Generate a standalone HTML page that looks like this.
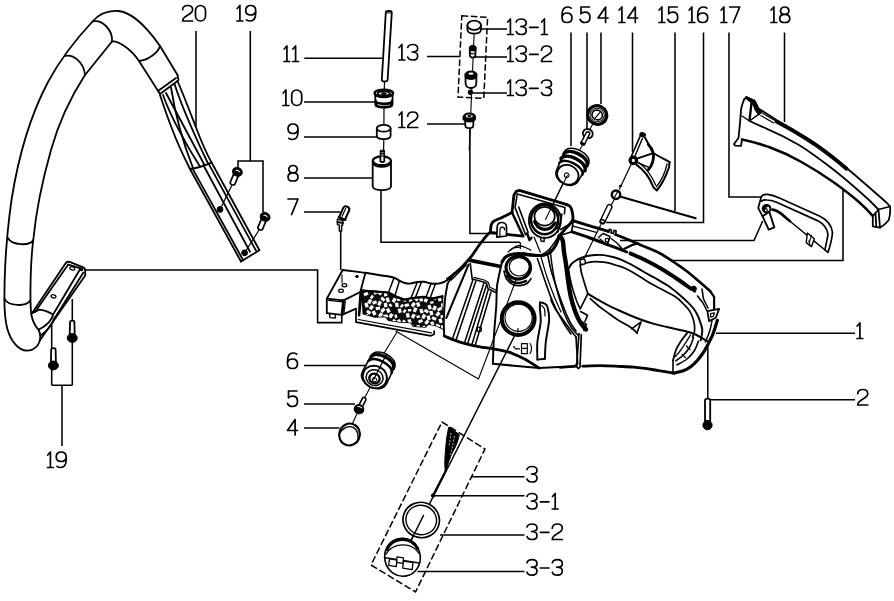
<!DOCTYPE html>
<html><head><meta charset="utf-8"><title>Parts diagram</title>
<style>
html,body{margin:0;padding:0;background:#fff;}
body{width:894px;height:601px;overflow:hidden;font-family:"Liberation Sans",sans-serif;}
svg{display:block;}
.t{fill:none;stroke:#000;stroke-width:1.7;stroke-linecap:round;stroke-linejoin:round;}
.l{fill:none;stroke:#000;stroke-width:1.55;stroke-linecap:butt;stroke-linejoin:miter;}
.p{fill:none;stroke:#000;stroke-width:1.8;stroke-linecap:round;stroke-linejoin:round;}
.pw{fill:#fff;stroke:#000;stroke-width:1.8;stroke-linecap:round;stroke-linejoin:round;}
.k{fill:none;stroke:#000;stroke-width:2.4;stroke-linecap:round;stroke-linejoin:round;}
.kk{fill:none;stroke:#000;stroke-width:3.4;stroke-linecap:round;stroke-linejoin:round;}
.n{fill:none;stroke:#000;stroke-width:1.2;stroke-linecap:round;stroke-linejoin:round;}
.b{fill:#000;stroke:#000;stroke-width:1;stroke-linejoin:round;}
.d{fill:none;stroke:#000;stroke-width:1.5;stroke-dasharray:6.5 2.6;}
</style></head>
<body>
<svg width="894" height="601" viewBox="0 0 894 601">
<defs><filter id="soft" x="0" y="0" width="894" height="601" filterUnits="userSpaceOnUse"><feGaussianBlur stdDeviation="0.45"/></filter></defs>
<rect x="0" y="0" width="894" height="601" fill="#fff"/>
<g filter="url(#soft)">
<g class="t">
<path transform="translate(182.60,5.50) scale(1.000)" d="M0,4.2 C0,1.6 2,0 5,0 C8,0 10,1.6 10,4.2 C10,7 7.5,8.3 4.5,10 C1.8,11.5 0,13 0,15.5 L10,15.5"/>
<path transform="translate(195.50,5.50) scale(1.000)" d="M5,0 C2,0 0,2.3 0,5 L0,10.5 C0,13.2 2,15.5 5,15.5 C8,15.5 10,13.2 10,10.5 L10,5 C10,2.3 8,0 5,0 Z"/>
<path transform="translate(237.00,5.50) scale(1.000)" d="M0.2,3 L2.9,0 L2.9,15.5 M0,15.5 L5.8,15.5"/>
<path transform="translate(245.70,5.50) scale(1.000)" d="M0.8,14.3 C1.8,15.1 3,15.5 4.4,15.5 C8,15.5 10,12.5 10,7.5 L10,5.1 C10,2.1 8,0 5,0 C2,0 0,2 0,4.8 C0,7.7 2,9.5 5,9.5 C7.5,9.5 9.4,8 10,5.7"/>
<path transform="translate(284.00,46.00) scale(1.000)" d="M0.2,3 L2.9,0 L2.9,15.5 M0,15.5 L5.8,15.5"/>
<path transform="translate(292.70,46.00) scale(1.000)" d="M0.2,3 L2.9,0 L2.9,15.5 M0,15.5 L5.8,15.5"/>
<path transform="translate(283.00,90.00) scale(1.000)" d="M0.2,3 L2.9,0 L2.9,15.5 M0,15.5 L5.8,15.5"/>
<path transform="translate(291.70,90.00) scale(1.000)" d="M5,0 C2,0 0,2.3 0,5 L0,10.5 C0,13.2 2,15.5 5,15.5 C8,15.5 10,13.2 10,10.5 L10,5 C10,2.3 8,0 5,0 Z"/>
<path transform="translate(288.00,124.00) scale(1.000)" d="M0.8,14.3 C1.8,15.1 3,15.5 4.4,15.5 C8,15.5 10,12.5 10,7.5 L10,5.1 C10,2.1 8,0 5,0 C2,0 0,2 0,4.8 C0,7.7 2,9.5 5,9.5 C7.5,9.5 9.4,8 10,5.7"/>
<path transform="translate(288.00,165.50) scale(1.000)" d="M5,0 C2.5,0 0.8,1.5 0.8,3.8 C0.8,6 2.5,7.4 5,7.4 C7.5,7.4 9.2,6 9.2,3.8 C9.2,1.5 7.5,0 5,0 Z M5,7.4 C2,7.4 0,9 0,11.4 C0,13.9 2,15.5 5,15.5 C8,15.5 10,13.9 10,11.4 C10,9 8,7.4 5,7.4 Z"/>
<path transform="translate(288.00,199.00) scale(1.000)" d="M0,0 L10,0 L3.6,15.5"/>
<path transform="translate(399.00,44.50) scale(1.000)" d="M0.2,3 L2.9,0 L2.9,15.5 M0,15.5 L5.8,15.5"/>
<path transform="translate(407.70,44.50) scale(1.000)" d="M0,3 C0.6,1.1 2.5,0 5,0 C8,0 10,1.5 10,4 C10,6.2 8,7.5 4.5,7.5 C8,7.5 10,8.9 10,11.4 C10,13.9 8,15.5 5,15.5 C2.5,15.5 0.6,14.4 0,12.5"/>
<path transform="translate(399.00,112.00) scale(1.000)" d="M0.2,3 L2.9,0 L2.9,15.5 M0,15.5 L5.8,15.5"/>
<path transform="translate(407.70,112.00) scale(1.000)" d="M0,4.2 C0,1.6 2,0 5,0 C8,0 10,1.6 10,4.2 C10,7 7.5,8.3 4.5,10 C1.8,11.5 0,13 0,15.5 L10,15.5"/>
<path transform="translate(507.50,19.00) scale(1.000)" d="M0.2,3 L2.9,0 L2.9,15.5 M0,15.5 L5.8,15.5"/>
<path transform="translate(516.20,19.00) scale(1.000)" d="M0,3 C0.6,1.1 2.5,0 5,0 C8,0 10,1.5 10,4 C10,6.2 8,7.5 4.5,7.5 C8,7.5 10,8.9 10,11.4 C10,13.9 8,15.5 5,15.5 C2.5,15.5 0.6,14.4 0,12.5"/>
<path transform="translate(529.10,19.00) scale(1.000)" d="M0.5,8.3 L9,8.3"/>
<path transform="translate(541.50,19.00) scale(1.000)" d="M0.2,3 L2.9,0 L2.9,15.5 M0,15.5 L5.8,15.5"/>
<path transform="translate(507.50,46.00) scale(1.000)" d="M0.2,3 L2.9,0 L2.9,15.5 M0,15.5 L5.8,15.5"/>
<path transform="translate(516.20,46.00) scale(1.000)" d="M0,3 C0.6,1.1 2.5,0 5,0 C8,0 10,1.5 10,4 C10,6.2 8,7.5 4.5,7.5 C8,7.5 10,8.9 10,11.4 C10,13.9 8,15.5 5,15.5 C2.5,15.5 0.6,14.4 0,12.5"/>
<path transform="translate(529.10,46.00) scale(1.000)" d="M0.5,8.3 L9,8.3"/>
<path transform="translate(541.50,46.00) scale(1.000)" d="M0,4.2 C0,1.6 2,0 5,0 C8,0 10,1.6 10,4.2 C10,7 7.5,8.3 4.5,10 C1.8,11.5 0,13 0,15.5 L10,15.5"/>
<path transform="translate(507.50,80.00) scale(1.000)" d="M0.2,3 L2.9,0 L2.9,15.5 M0,15.5 L5.8,15.5"/>
<path transform="translate(516.20,80.00) scale(1.000)" d="M0,3 C0.6,1.1 2.5,0 5,0 C8,0 10,1.5 10,4 C10,6.2 8,7.5 4.5,7.5 C8,7.5 10,8.9 10,11.4 C10,13.9 8,15.5 5,15.5 C2.5,15.5 0.6,14.4 0,12.5"/>
<path transform="translate(529.10,80.00) scale(1.000)" d="M0.5,8.3 L9,8.3"/>
<path transform="translate(541.50,80.00) scale(1.000)" d="M0,3 C0.6,1.1 2.5,0 5,0 C8,0 10,1.5 10,4 C10,6.2 8,7.5 4.5,7.5 C8,7.5 10,8.9 10,11.4 C10,13.9 8,15.5 5,15.5 C2.5,15.5 0.6,14.4 0,12.5"/>
<path transform="translate(562.00,7.00) scale(1.000)" d="M9.2,1.2 C8.2,0.4 7,0 5.6,0 C2,0 0,3 0,8 L0,10.4 C0,13.4 2,15.5 5,15.5 C8,15.5 10,13.5 10,10.7 C10,7.8 8,6 5,6 C2.5,6 0.6,7.5 0,9.8"/>
<path transform="translate(580.00,7.00) scale(1.000)" d="M9.5,0 L1,0 L1,6.8 C2,5.7 3.4,5.2 5,5.2 C8,5.2 10,7.3 10,10.3 C10,13.4 8,15.5 5,15.5 C2.5,15.5 0.8,14.5 0,12.4"/>
<path transform="translate(598.00,7.00) scale(1.000)" d="M7.6,15.5 L7.6,0 L0,11 L10,11"/>
<path transform="translate(619.00,7.00) scale(1.000)" d="M0.2,3 L2.9,0 L2.9,15.5 M0,15.5 L5.8,15.5"/>
<path transform="translate(627.70,7.00) scale(1.000)" d="M7.6,15.5 L7.6,0 L0,11 L10,11"/>
<path transform="translate(659.00,7.00) scale(1.000)" d="M0.2,3 L2.9,0 L2.9,15.5 M0,15.5 L5.8,15.5"/>
<path transform="translate(667.70,7.00) scale(1.000)" d="M9.5,0 L1,0 L1,6.8 C2,5.7 3.4,5.2 5,5.2 C8,5.2 10,7.3 10,10.3 C10,13.4 8,15.5 5,15.5 C2.5,15.5 0.8,14.5 0,12.4"/>
<path transform="translate(689.00,7.00) scale(1.000)" d="M0.2,3 L2.9,0 L2.9,15.5 M0,15.5 L5.8,15.5"/>
<path transform="translate(697.70,7.00) scale(1.000)" d="M9.2,1.2 C8.2,0.4 7,0 5.6,0 C2,0 0,3 0,8 L0,10.4 C0,13.4 2,15.5 5,15.5 C8,15.5 10,13.5 10,10.7 C10,7.8 8,6 5,6 C2.5,6 0.6,7.5 0,9.8"/>
<path transform="translate(721.00,7.00) scale(1.000)" d="M0.2,3 L2.9,0 L2.9,15.5 M0,15.5 L5.8,15.5"/>
<path transform="translate(729.70,7.00) scale(1.000)" d="M0,0 L10,0 L3.6,15.5"/>
<path transform="translate(771.00,7.00) scale(1.000)" d="M0.2,3 L2.9,0 L2.9,15.5 M0,15.5 L5.8,15.5"/>
<path transform="translate(779.70,7.00) scale(1.000)" d="M5,0 C2.5,0 0.8,1.5 0.8,3.8 C0.8,6 2.5,7.4 5,7.4 C7.5,7.4 9.2,6 9.2,3.8 C9.2,1.5 7.5,0 5,0 Z M5,7.4 C2,7.4 0,9 0,11.4 C0,13.9 2,15.5 5,15.5 C8,15.5 10,13.9 10,11.4 C10,9 8,7.4 5,7.4 Z"/>
<path transform="translate(857.00,323.00) scale(1.000)" d="M0.2,3 L2.9,0 L2.9,15.5 M0,15.5 L5.8,15.5"/>
<path transform="translate(857.70,389.50) scale(1.000)" d="M0,4.2 C0,1.6 2,0 5,0 C8,0 10,1.6 10,4.2 C10,7 7.5,8.3 4.5,10 C1.8,11.5 0,13 0,15.5 L10,15.5"/>
<path transform="translate(527.00,466.50) scale(1.000)" d="M0,3 C0.6,1.1 2.5,0 5,0 C8,0 10,1.5 10,4 C10,6.2 8,7.5 4.5,7.5 C8,7.5 10,8.9 10,11.4 C10,13.9 8,15.5 5,15.5 C2.5,15.5 0.6,14.4 0,12.5"/>
<path transform="translate(527.00,493.50) scale(1.000)" d="M0,3 C0.6,1.1 2.5,0 5,0 C8,0 10,1.5 10,4 C10,6.2 8,7.5 4.5,7.5 C8,7.5 10,8.9 10,11.4 C10,13.9 8,15.5 5,15.5 C2.5,15.5 0.6,14.4 0,12.5"/>
<path transform="translate(539.90,493.50) scale(1.000)" d="M0.5,8.3 L9,8.3"/>
<path transform="translate(552.30,493.50) scale(1.000)" d="M0.2,3 L2.9,0 L2.9,15.5 M0,15.5 L5.8,15.5"/>
<path transform="translate(527.00,524.00) scale(1.000)" d="M0,3 C0.6,1.1 2.5,0 5,0 C8,0 10,1.5 10,4 C10,6.2 8,7.5 4.5,7.5 C8,7.5 10,8.9 10,11.4 C10,13.9 8,15.5 5,15.5 C2.5,15.5 0.6,14.4 0,12.5"/>
<path transform="translate(539.90,524.00) scale(1.000)" d="M0.5,8.3 L9,8.3"/>
<path transform="translate(552.30,524.00) scale(1.000)" d="M0,4.2 C0,1.6 2,0 5,0 C8,0 10,1.6 10,4.2 C10,7 7.5,8.3 4.5,10 C1.8,11.5 0,13 0,15.5 L10,15.5"/>
<path transform="translate(527.00,559.70) scale(1.000)" d="M0,3 C0.6,1.1 2.5,0 5,0 C8,0 10,1.5 10,4 C10,6.2 8,7.5 4.5,7.5 C8,7.5 10,8.9 10,11.4 C10,13.9 8,15.5 5,15.5 C2.5,15.5 0.6,14.4 0,12.5"/>
<path transform="translate(539.90,559.70) scale(1.000)" d="M0.5,8.3 L9,8.3"/>
<path transform="translate(552.30,559.70) scale(1.000)" d="M0,3 C0.6,1.1 2.5,0 5,0 C8,0 10,1.5 10,4 C10,6.2 8,7.5 4.5,7.5 C8,7.5 10,8.9 10,11.4 C10,13.9 8,15.5 5,15.5 C2.5,15.5 0.6,14.4 0,12.5"/>
<path transform="translate(287.50,353.00) scale(1.000)" d="M9.2,1.2 C8.2,0.4 7,0 5.6,0 C2,0 0,3 0,8 L0,10.4 C0,13.4 2,15.5 5,15.5 C8,15.5 10,13.5 10,10.7 C10,7.8 8,6 5,6 C2.5,6 0.6,7.5 0,9.8"/>
<path transform="translate(287.50,391.00) scale(1.000)" d="M9.5,0 L1,0 L1,6.8 C2,5.7 3.4,5.2 5,5.2 C8,5.2 10,7.3 10,10.3 C10,13.4 8,15.5 5,15.5 C2.5,15.5 0.8,14.5 0,12.4"/>
<path transform="translate(287.50,419.50) scale(1.000)" d="M7.6,15.5 L7.6,0 L0,11 L10,11"/>
<path transform="translate(47.50,452.00) scale(1.000)" d="M0.2,3 L2.9,0 L2.9,15.5 M0,15.5 L5.8,15.5"/>
<path transform="translate(56.20,452.00) scale(1.000)" d="M0.8,14.3 C1.8,15.1 3,15.5 4.4,15.5 C8,15.5 10,12.5 10,7.5 L10,5.1 C10,2.1 8,0 5,0 C2,0 0,2 0,4.8 C0,7.7 2,9.5 5,9.5 C7.5,9.5 9.4,8 10,5.7"/>
</g>
<g class="l">
<path d="M196,31 L196,127"/>
<path d="M250.3,31 L250.3,161 M238,167 L238,161 L263,161 L263,212"/>
<path d="M304.3,58.2 L382.5,58.2"/>
<path d="M304,102 L375,102"/>
<path d="M304,137 L377,137"/>
<path d="M304,178 L372.5,178"/>
<path d="M304,212 L340,212"/>
<path d="M427,56.5 L460,56.5"/>
<path d="M427,124 L465,124"/>
<path d="M480,29 L507,29"/>
<path d="M475,57 L507,57"/>
<path d="M472.5,93 L507,93"/>
<path d="M571,32.5 L571,146"/>
<path d="M587,32.5 L587,129"/>
<path d="M601,32.5 L601,104"/>
<path d="M632.5,32.5 L632.5,152"/>
<path d="M675,32.5 L675,211"/>
<path d="M703.5,32.5 L703.5,222.5 L606,222.5"/>
<path d="M729,32.5 L729,197 L761.5,197"/>
<path d="M784.5,32.5 L784.5,122"/>
<path d="M843,189 L843,260.5 L671,260.5"/>
<path d="M762.7,221 L754,240.5 L620,240.5"/>
<path d="M716,333.2 L855,333.2"/>
<path d="M709,399.7 L855,399.7"/>
<path d="M707.8,345 L707.8,399"/>
<path d="M471,476.7 L524.5,476.7"/>
<path d="M433,495.7 L524.5,495.7"/>
<path d="M440,535 L524.5,535"/>
<path d="M417.5,571.5 L524.5,571.5"/>
<path d="M304,365.5 L366,365.5"/>
<path d="M304,404 L355,404"/>
<path d="M304,428 L339.5,428"/>
<path d="M62,446 L62,385.2 M51.7,385.2 L72.4,385.2"/>
<path d="M72.3,299 L72.3,385.2 M51.7,325 L51.7,385.2"/>
<path d="M84.5,270 L317.6,270 L317.6,322.6 L341.8,322.6 L341.8,314.5"/>
<path d="M340.7,231 L340.7,270"/>
<path d="M381,190 L381,242.3 L520,242.3"/>
<path d="M469.9,127.5 L469.9,233.5 L495.5,233.5"/>
</g>
<g class="p">
<path d="M38.5,329.7 C41,334 41,341 37.5,345.5 C34.5,349 31,350.7 27,350.7 C19,350.7 11,342 7.3,328.8 C5,320 4.3,310 4.4,298 C4.4,265 7,232 11.5,200 C17,165 28,120 48,82 C62,56 78,37 92.5,21.5 C100,13 110,10.5 118,11 C132,12 146,26 160,46 L177.5,75"/>
<path d="M38.5,329.7 C35,326 32.5,321 31.2,314 C29.8,300 30.3,262 33.5,238 C36,212 42,182 51,150 C60,118 72,95 85,75 L112,41.5 C116,41 120,43 125,46.5 C130,50 135,55 139,61 L160,94"/>
<path d="M65,56 C73,54 84,62 85,75"/>
<path d="M92.5,21.5 C102,19 113,30 112,41.5"/>
<path d="M139,61 C148,60 158,53 160,46"/>
<path d="M7.5,237.5 C12,246 30,246 33.3,240"/>
<path d="M4.5,298.5 C8,306.5 26,307 30.2,300.5"/>
<path d="M160,94 L177.5,81 M158,91 L176,78"/>
<path d="M177.5,75 L178.5,80"/>
<path d="M177.5,81 C184,96 190,112 196,127.5 C200,138 205,151 211.7,162.7 L259.3,250"/>
<path d="M160,95 C164,107 168,119 172.5,130 C178,145 184,157 190,169 L241,261.5"/>
<path d="M241,261.5 L259.3,250.3"/>
<path d="M192.4,168.4 L243.2,260.2"/>
<path d="M203.3,165 L250,251.7"/>
<path d="M208.4,163.4 L256,250.6"/>
<path d="M190,169 C196,168.5 204,166 211.7,162.7"/>
<path d="M163,95 C170,115 186,145 200,166.5"/>
<path d="M174.5,84 C181,104 192,130 208,163.5"/>
<path d="M166,93 C176,112 190,138 204.5,165"/>
<path d="M171,87.5 C174,107 180,135 193,168"/>
</g>
<circle cx="220" cy="209.4" r="2.9" class="b"/><circle cx="244.6" cy="252.8" r="2.9" class="b"/>
<g class="n"><path d="M232.5,184 L220,209.5 M260,228.5 L244.6,252.8"/></g>
<g transform="translate(237.4,171.8) rotate(23)"><path class="pw" d="M-2.5,1.5 L-2.5,12.3 C-2.5,14.6 2.5,14.6 2.5,12.3 L2.5,1.5 Z" style="stroke-width:1.7"/><ellipse cx="0" cy="0" rx="5" ry="4.3" class="b"/><path d="M-2,-0.6 C-1,-1.8 1.2,-1.8 2.2,-0.4" stroke="#fff" stroke-width="1.1" fill="none"/></g>
<g transform="translate(265.1,216.8) rotate(23)"><path class="pw" d="M-2.5,1.5 L-2.5,12.3 C-2.5,14.6 2.5,14.6 2.5,12.3 L2.5,1.5 Z" style="stroke-width:1.7"/><ellipse cx="0" cy="0" rx="5" ry="4.3" class="b"/><path d="M-2,-0.6 C-1,-1.8 1.2,-1.8 2.2,-0.4" stroke="#fff" stroke-width="1.1" fill="none"/></g>
<g class="p">
<path d="M65.9,262.8 L32,313.2"/>
<path d="M68.2,264.6 L35,312"/>
<path d="M65.9,262.8 C67,261.8 68.5,261.6 69.6,261.9 L83.3,267.4 C84.5,268 85.2,269 85.2,270.1 L85.2,275.6 L39.8,340.6"/>
<path d="M80.6,268.3 L53.1,314.5"/>
<path d="M83.4,272.6 L55,317.8"/>
<path d="M68.2,264.6 L80.6,268.3"/>
<path d="M32,313.2 L39.4,309.6 C44,310 49,312 53.1,314.5"/>
<path d="M53.1,314.5 C52,320 46,326 38.5,329.7"/>
<path d="M54.6,317.5 C52.5,324 47,331 40.6,335.5"/>
<ellipse cx="72.3" cy="268.4" rx="2.5" ry="1.6" transform="rotate(15 72.3 268.4)" style="stroke-width:1.3"/>
<ellipse cx="53.5" cy="296.3" rx="2.5" ry="1.6" transform="rotate(15 53.5 296.3)" style="stroke-width:1.3"/>
<ellipse cx="81.3" cy="269.5" rx="1.2" ry="0.9"/>
</g>
<g transform="translate(72.2,321)"><path class="pw" d="M-2.2,1.2 C-2.2,-0.8 2.2,-0.8 2.2,1.2 L2.5,14 L-2.5,14 Z" style="stroke-width:1.8"/><ellipse cx="0" cy="17" rx="5" ry="4.4" class="b"/></g>
<g transform="translate(53.4,348.5)"><path class="pw" d="M-2.2,1.2 C-2.2,-0.8 2.2,-0.8 2.2,1.2 L2.5,14 L-2.5,14 Z" style="stroke-width:1.8"/><ellipse cx="0" cy="17" rx="5" ry="4.4" class="b"/></g>
<g class="pw">
<path d="M385.8,12.5 C385.8,10.4 391.8,10.4 391.8,12.5 L387.6,80 C387.4,82 381.9,82 381.8,80 Z"/>
<ellipse cx="388.8" cy="12" rx="2.2" ry="1.1" style="fill:none;stroke-width:1"/>
</g>
<g class="n"><path d="M384.5,82 L384.3,89 M384,107.5 L383.9,125 M383.8,140 L383.6,150"/></g>
<g class="pw">
<path d="M375.3,95 L375.3,104.5 C375.3,108.3 392.5,108.3 392.5,104.5 L392.5,95 Z"/>
<path class="k" style="stroke-width:2.7" d="M375.8,101.2 C376.2,104.7 391.8,104.7 392,101.2 M376,104.6 C376.4,108 391.6,108 391.8,104.6"/>
<ellipse cx="383.8" cy="93.3" rx="9.2" ry="3.7" style="stroke-width:2.4"/>
<ellipse cx="383.8" cy="93.5" rx="6.2" ry="2.2"/>
<ellipse cx="383.8" cy="93.8" rx="2.3" ry="1" class="b"/>
</g>
<g class="pw">
<path d="M376.8,128.5 L376.8,135.8 C376.8,140.2 390.6,140.2 390.6,135.8 L390.6,128.5 Z"/>
<ellipse cx="383.7" cy="128.3" rx="6.9" ry="3.4"/>
</g>
<g class="pw">
<path d="M380.4,150.3 L384.3,150.3 L384.3,160 L380.4,160 Z" style="stroke-width:1.1"/>
<path class="k" style="stroke-width:1.6" d="M380.4,151.6 L384.3,151.6 M380.4,153.8 L384.3,153.8"/>
<path d="M372.7,161 L372.7,186 C372.7,191.6 391,191.6 391,186 L391,161 Z"/>
<ellipse cx="381.9" cy="160.8" rx="9.1" ry="4.4" style="stroke-width:2.2"/>
<path d="M373.3,163.5 C375,168 388.5,168 390.5,163.5" style="fill:none"/>
<path d="M380.4,156.5 L380.4,161 C380.4,162.3 384.3,162.3 384.3,161 L384.3,156.5" />
</g>
<path class="pw" d="M337.4,219 L343,220.5 L342.6,225.3 L341.6,225.3 L341.6,231 L339.3,231 L339.3,225 L337.4,224.6 Z" style="stroke-width:1.4"/>
<path class="k" d="M337.3,222 L343,223" style="stroke-width:1.8"/>
<g transform="translate(344.3,213.4) rotate(24)">
<path class="pw" d="M-3.2,-4.6 C-3.2,-8.2 3.2,-8.2 3.2,-4.6 L3.2,5.6 L-3.2,5.6 Z" style="stroke-width:2"/>
<path class="k" d="M-3.6,5.6 L3.6,5.6" style="stroke-width:2.2"/>
<path class="n" d="M-0.8,-5 L-0.8,3.5"/>
</g>
<path class="d" d="M461.8,15.8 L487.6,17.4 L483.8,98.3 L458,97.1 Z"/>
<path class="n" d="M474.2,32 L469.2,150" style="stroke-width:1.1"/>
<g class="pw"><path d="M467.4,25.3 L467.4,29.5 C467.4,35 481,35 481,29.5 L481,25.3 Z"/><ellipse cx="474.2" cy="25.2" rx="6.8" ry="4.6"/></g>
<g class="pw"><path d="M469.7,47.5 L469.9,55 C470,58.6 475.3,58.6 475.4,55 L475.7,47.5 Z"/><path class="b" d="M469.6,47.3 C469.6,44.5 475.8,44.5 475.8,47.3 L475.7,50 C475,51.3 470.4,51.3 469.7,50 Z"/><path class="n" d="M470.5,53 C471.5,54.2 474.3,54.2 475.2,53"/></g>
<g class="pw"><path d="M465.4,74 L465.6,83.5 C465.6,89.5 476.3,89.5 476.3,83.5 L476.5,74 Z"/><path class="b" d="M465.3,74 C465.3,70 476.6,70 476.6,74 L476.5,77.5 C475.5,80 466.5,80 465.4,77.5 Z"/><ellipse cx="471" cy="73.6" rx="2.6" ry="1.2" fill="#fff" stroke="none"/><ellipse cx="470.4" cy="92.3" rx="2.3" ry="2.4" class="b"/></g>
<g class="pw"><path d="M465.2,120 L465.3,125.5 C465.3,129 473.2,129 473.3,125.5 L473.4,120 Z"/><path class="b" d="M463,116.8 C463,111.6 475.5,111.6 475.5,116.8 L475.4,119.6 C474.5,122.8 464,122.8 463.1,119.6 Z"/><ellipse cx="469.3" cy="116" rx="3.4" ry="1.5" fill="#fff" stroke="none"/><ellipse cx="469.3" cy="116" rx="1.6" ry="0.7" class="b" stroke="none"/></g>
<path class="n" d="M599,112 L588,133 M583.5,143.5 L579,151 M566.8,175.2 L545.5,219.5" style="stroke-width:1.05"/>
<g transform="translate(597.2,115) rotate(25)">
<ellipse cx="0" cy="0" rx="9.6" ry="9.2" class="pw" style="stroke-width:3.3"/>
<ellipse cx="0" cy="0" rx="7.1" ry="6.7" class="p" style="stroke-width:0.9"/>
<ellipse cx="0" cy="0" rx="5.3" ry="4.8" class="pw" style="stroke-width:1.6"/>
<path class="n" d="M-0.5,3.5 L1.5,-3.5"/>
</g>
<g transform="translate(587.8,133.6) rotate(27)">
<ellipse cx="0" cy="0" rx="5" ry="4.4" class="pw" style="stroke-width:1.9"/>
<path class="pw" d="M-1.9,0 L-1.9,11.3 C-1.9,12.8 1.9,12.8 1.9,11.3 L1.9,0 C1.9,-2.4 -1.9,-2.4 -1.9,0 Z" style="stroke-width:1.5"/>
<path class="k" d="M-1.6,11.2 L1.6,11.2"/>
</g>
<g transform="translate(572.3,166) rotate(27)">
<path class="pw" d="M-13.5,-9 C-13.5,-20 13.5,-20 13.5,-9 L12.2,10 C12.2,23 -12.2,23 -12.2,10 Z" style="stroke-width:1.6"/>
<path class="kk" d="M-13,-7 C-12,-15.8 12,-15.8 13,-7" />
<path class="kk" d="M-13.5,-1.5 C-12,-10.5 12,-10.5 13.5,-1.5" />
<path class="k" d="M-13,3 C-11,-5 11,-5 13,3" />
<ellipse cx="0" cy="9.8" rx="11" ry="9.6" class="pw" style="stroke-width:1.8"/>
<ellipse cx="-0.8" cy="10.8" rx="2.3" ry="2.3" class="pw" style="stroke-width:1"/>
</g>
<g class="p">
<path class="n" d="M631.5,163.5 L619.5,189 M614.5,199 L611,205.5 M600.8,224.8 L583.3,260" style="stroke-width:1.2"/>
<path d="M639.8,137 L631.3,156.5" style="stroke-width:1.7"/>
<path d="M642.4,138.6 L635.2,155.6" style="stroke-width:1.4"/>
<ellipse cx="642.6" cy="134.8" rx="2.9" ry="2.1" class="b" transform="rotate(20 642.6 134.8)"/>
<path d="M645,137.8 C648,143 651,149 653.1,153 C658,156 664,159 669.6,162.1" style="stroke-width:2"/>
<path class="k" d="M648.3,144.5 C653,149 654.8,156 652.7,162 C651.5,165.5 650,168 648.3,169.8" style="stroke-width:2.8"/>
<path d="M636.8,158.6 L652.6,153.4" style="stroke-width:2"/>
<path d="M636.8,162.3 L649.5,167.6" style="stroke-width:1.5"/>
<path d="M669.6,162.1 C669.5,166 668.5,170 666.8,173.1 C664,180 660.5,186 656.8,190.5 L653.6,187.6 C650,178 644,170 636.4,164.6" style="stroke-width:2"/>
<path d="M667,164 C665.3,172.5 661,181 656.4,186.8" style="stroke-width:1.3"/>
<path d="M639.5,163 C646.5,168.5 652,176.5 655.8,185.3" style="stroke-width:1.3"/>
<circle cx="633.3" cy="160.4" r="3.2" class="pw" style="stroke-width:3.3"/>
</g>
<circle cx="616" cy="194.7" r="4.2" class="pw" style="stroke-width:2.5"/>
<path class="n" d="M613.8,198.5 L618.3,190.5"/>
<path class="n" d="M619.3,186.5 C620,185 621.5,185.3 621.8,186.3" style="stroke-width:1.2"/>
<path class="k" d="M620.8,196.8 L695.7,218.3" style="stroke-width:2.1"/>
<g transform="translate(606,214.2) rotate(25.5)">
<path class="pw" d="M-2.4,-8.2 C-2.4,-11 2.4,-11 2.4,-8.2 L2.4,8.4 C2.4,11 -2.4,11 -2.4,8.4 Z" style="stroke-width:1.4"/>
<ellipse cx="0" cy="8" rx="2.3" ry="1.6" class="pw" style="stroke-width:1.5"/>
</g>
<g class="p" style="stroke-width:1.8">
<path d="M746.5,97 C744.5,98.5 743.7,100 743.3,101.5 C742,105 741.3,108 741,110 L740,123 L738.5,138 L734,144 L735,145.6 L741,145.8 L742,139.5"/>
<path d="M758.5,108.5 L776.5,120 C790,127.5 802,134.5 814,142.5 C826,150.5 838,160 849,170 C862,181 875,192.5 886.5,202.5 L890,206.5 C890.5,211 889.8,216.5 888.8,220 C886,223.5 883,226 880,227.7 L872.8,226.3 L872.8,216"/>
<path style="stroke-width:2.5" d="M742,139.5 C752,141.5 760,144 769,147 C780,151 791,156 801.5,162 C813,168.5 824,175.5 834,182.5 C843,189 852,196 859.5,202.5 C864,206.5 868.5,211 872.8,216"/>
<path d="M749.5,121 C754,123 759,125.3 764,127.5 C776,132.5 788,138.5 799,145 C811,152.5 823,161.5 834,170 C846,179.5 858,190 869,200 L878.5,209.5"/>
<path class="b" d="M746.5,96.6 L755,100.4 C756.5,103 757.5,105.5 758.5,107.5 L761.8,112.3 L758.8,115.2 L755,110 C754,106 752.5,104 751.5,103 L746,98.6 Z"/>
<path d="M751.5,103 L749.5,120.5" style="stroke-width:2.3"/>
<path d="M742,116 L749.5,121 L758.5,114.3" style="stroke-width:1.5"/>
<path d="M762,113 L775,120.4 M760.8,115.6 L773.8,123" style="stroke-width:1.2"/>
<path d="M872.8,216 L878.5,209.5 L890,206.5 M878.5,209.5 L880,227.7 M875.5,213 L876.3,226.8"/>
<path class="kk" d="M776.5,121.6 C790,128.8 802,135.8 814,143.8 C824,150.8 836,159.8 846.5,168.8" style="stroke-width:3.8"/>
</g>
<g class="p" style="stroke-width:1.7">
<path d="M761.2,197 C762,195.2 764.5,194.2 767.5,194.4 C772,195 776,196.5 780,198.2 L819.9,216.2 C826.5,219.5 831.5,225 832.4,232 C832.6,236 830,247 828,252.4 L824.9,249.9"/>
<path d="M761.2,201.2 C763,200 765,199.8 767,200 C770,200 773,200.8 776,202 L817.4,220.6 C823,223.5 827.3,228 828,234.9 L824.9,249.9"/>
<path class="k" d="M772.5,209.6 C777,210.3 781,213 785,217 L790,221.2" style="stroke-width:2.6"/>
<path d="M790,221.2 L824.9,249.9" style="stroke-width:1.4"/>
<path d="M761.2,197 L758.2,208 L762.5,216.2"/>
<path class="pw" d="M762.5,216.2 L768.7,229.6 L774.3,227.4 L769.3,211.8 Z" style="stroke-width:1.9"/>
<circle cx="766.6" cy="208.7" r="3.8" class="pw" style="stroke-width:2"/>
<path class="b" d="M763,207.5 C763.5,204.5 768.5,204 770,207 C768,206 765,206.5 764.5,210.5 Z"/>
<circle cx="765.6" cy="210.3" r="1.7" class="p" style="stroke-width:1.1"/>
<path class="pw" d="M807.4,233 L814.3,238.7 L811.5,246.8 L806.2,242.6 Z" style="stroke-width:1.4"/>
<path d="M808.8,241 L810.3,245.8 M811.5,235.5 L809.5,241.5" style="stroke-width:1.1"/>
</g>
<path class="pw" d="M705,400.5 C705,398 710.2,398 710.2,400.5 L710.2,421 L705,421 Z" style="stroke-width:1.8"/>
<circle cx="707.5" cy="425.2" r="4.6" class="b"/>
<path class="n" d="M397,332 L384.5,352.5 M372.5,383 L364.5,398 M356.8,414 L352,424.5" style="stroke-width:1.1"/>
<g transform="translate(378.2,370.5) rotate(27)">
<path class="pw" d="M-13,-10 C-13,-21 13,-21 13,-10 L13.5,8 C13.5,21.5 -13.5,21.5 -13.5,8 Z" style="stroke-width:1.6"/>
<path class="kk" d="M-12.6,-9 C-11.5,-17.5 11.5,-17.5 12.6,-9" />
<path class="k" d="M-13,-4 C-11.5,-12 11.5,-12 13,-4" />
<ellipse cx="0" cy="7.3" rx="12.3" ry="11" class="pw" style="stroke-width:1.9"/>
<ellipse cx="0" cy="8" rx="8.6" ry="7.8" class="pw" style="stroke-width:1.5"/>
<ellipse cx="0.3" cy="8.8" rx="5.2" ry="4.7" class="pw" style="stroke-width:2.4"/>
<ellipse cx="0.8" cy="9.8" rx="2.2" ry="1.9" class="pw" style="stroke-width:0.9"/>
<path class="n" d="M0,-17 L0,10"/>
</g>
<g transform="translate(359,409.2) rotate(27)">
<path class="pw" d="M-1.9,-1 L-1.9,-11.5 C-1.9,-13.3 1.9,-13.3 1.9,-11.5 L1.9,-1 Z" style="stroke-width:1.6"/>
<ellipse cx="0" cy="0" rx="4.9" ry="4.5" class="b"/>
<path d="M-2.5,-1.5 C-1.5,-2.8 1,-3 2.2,-2.2" stroke="#fff" stroke-width="1" fill="none"/>
</g>
<g transform="translate(349.5,434.5) rotate(20)">
<ellipse cx="0" cy="0" rx="10.3" ry="11" class="pw" style="stroke-width:2.1"/>
<path class="p" d="M-9.6,3 C-9,-4 -4,-8.3 1,-8 C6,-7.6 9.8,-2 9.8,5" style="stroke-width:1.3"/>
</g>
<path class="d" d="M442,422 L485,449 L415.5,592 L371,565 Z" style="stroke-dasharray:7 2.8"/>
<path class="n" d="M519,327 L410,542.5" style="stroke-width:1.45"/>
<path class="b" d="M448.8,427 L459.3,434.5 C458.5,440 456,446 452.5,452.5 C450,457.5 448,463 447,468 L445.2,472 C444.8,466 444.6,460 445.2,454 C446,444 446.5,436 448.8,427 Z"/>
<path d="M451,433 L449,447 M454.5,436 L450.5,456" stroke="#fff" stroke-width="0.7" stroke-dasharray="2 1.5" fill="none"/>
<path class="k" d="M445.6,471 L433.5,494.5" style="stroke-width:2"/>
<circle cx="433" cy="495.6" r="1.7" class="b"/>
<ellipse cx="421.2" cy="520" rx="18.3" ry="17.6" class="pw" style="stroke-width:1.7" transform="rotate(20 421.2 520)"/>
<ellipse cx="421.2" cy="520" rx="15.4" ry="14.6" class="p" style="stroke-width:1.4" transform="rotate(20 421.2 520)"/>
<path class="n" d="M423.5,515.5 L410,542.5" style="stroke-width:1.45"/>
<g transform="translate(402.5,557.3)">
<ellipse cx="0" cy="0" rx="17.8" ry="19" class="pw" style="stroke-width:1.6" transform="rotate(-12)"/>
<path class="kk" d="M-15.5,-8 C-10,-20.5 8,-21.5 15,-9" style="stroke-width:3.2"/>
<path class="p" d="M-16.5,-3 C-10,-15 9,-16 16.5,-4" style="stroke-width:1.3"/>
<path class="p" d="M-17,0.5 L16.8,5.8" style="stroke-width:1.5"/>
<path class="pw" d="M-13,1.5 L-5.5,2.8 L-6.3,9.3 L-13.8,8 Z M1,3.8 L10.5,5.3 L9.7,12.3 L0.2,10.8 Z M-5.5,-0.5 L1,0.5 L0.5,6 L-6,5 Z" style="stroke-width:1.3"/>
</g>
<path class="p" style="stroke-width:1.83" d="M342.7,270.0 L326.8,298.7 L326.8,313.2 L342.0,314.8 L356.0,308.7"/>
<path class="p" style="stroke-width:1.83" d="M326.8,298.7 L343.6,300.4 L360.3,292.0"/>
<path class="k" style="stroke-width:2.81" d="M343.6,300.4 L342.0,314.8"/>
<path class="p" style="stroke-width:1.83" d="M342.7,270.0 L356.0,271.6 L365.4,272.8 L360.3,292.0 L358.7,315.0"/>
<path class="p" style="stroke-width:1.34" d="M329.5,313.7 L330.0,317.6 L335.2,318.0 L335.5,314.3"/>
<path class="p" style="stroke-width:1.22" d="M328.5,300.3 L343.0,301.8"/>
<path class="p" style="stroke-width:1.22" d="M345.3,301.3 L344.0,313.0"/>
<ellipse cx="344.4" cy="285.3" rx="2.4" ry="1.6" class="p" style="stroke-width:1.2"/>
<ellipse cx="341" cy="290.8" rx="2.4" ry="1.6" class="p" style="stroke-width:1.2"/>
<ellipse cx="357" cy="276.5" rx="1.5" ry="1.1" class="b"/>
<path class="p" style="stroke-width:1.10" d="M342.0,275.0 L342.0,282.5"/>
<path class="p" style="stroke-width:1.95" d="M365.4,272.8 C367.8,273.2 375.2,274.4 380.0,275.2 C384.8,276.0 390.8,276.8 394.0,277.7 C397.2,278.6 397.3,279.7 399.0,280.5 C400.7,281.3 402.2,282.2 404.0,282.7 C405.8,283.2 407.8,283.7 410.0,283.6 C412.2,283.5 415.1,282.3 417.4,282.0 C419.7,281.7 421.7,281.6 424.0,281.8 C426.3,282.1 428.7,283.2 431.0,283.5 C433.3,283.8 435.8,283.9 438.0,283.6 C440.2,283.4 442.0,282.9 444.0,282.0 C446.0,281.1 448.2,279.5 450.0,278.0 C451.8,276.5 453.8,273.8 454.5,273.0"/>
<clipPath id="gc"><path d="M362.0,290.5 L375.0,291.5 L388.0,292.6 L395.0,296.0 L404.0,299.5 L412.0,298.2 L424.0,297.0 L432.0,298.5 L442.5,296.3 L443.2,329.0 L436.0,325.6 L428.5,324.0 L425.5,327.0 L413.5,326.3 L410.5,322.6 L400.0,322.0 L388.5,320.3 L385.5,316.6 L375.0,317.0 L363.2,313.8 Z"/></clipPath>
<path d="M362.0,290.5 L375.0,291.5 L388.0,292.6 L395.0,296.0 L404.0,299.5 L412.0,298.2 L424.0,297.0 L432.0,298.5 L442.5,296.3 L443.2,329.0 L436.0,325.6 L428.5,324.0 L425.5,327.0 L413.5,326.3 L410.5,322.6 L400.0,322.0 L388.5,320.3 L385.5,316.6 L375.0,317.0 L363.2,313.8 Z" fill="#0c0c0c" stroke="#000" stroke-width="1.4" stroke-linejoin="round"/>
<g clip-path="url(#gc)" fill="#fff">
<rect x="-1.24" y="-1.76" width="2.47" height="3.52" transform="translate(368.7,289.8) rotate(42)"/>
<rect x="-1.65" y="-2.20" width="3.30" height="4.40" transform="translate(375.1,292.1) rotate(-22)"/>
<rect x="-2.20" y="-1.50" width="4.40" height="3.00" transform="translate(379.6,293.1) rotate(36)"/>
<rect x="-1.65" y="-2.20" width="3.30" height="4.40" transform="translate(385.6,294.1) rotate(-6)"/>
<rect x="-1.65" y="-1.20" width="3.30" height="2.40" transform="translate(396.4,295.1) rotate(-12)"/>
<rect x="-1.65" y="-2.20" width="3.30" height="4.40" transform="translate(401.4,293.7) rotate(24)"/>
<rect x="-1.65" y="-2.20" width="3.30" height="4.40" transform="translate(407.3,293.4) rotate(-18)"/>
<rect x="-2.20" y="-1.50" width="4.40" height="3.00" transform="translate(413.3,293.3) rotate(40)"/>
<rect x="-1.65" y="-2.20" width="3.30" height="4.40" transform="translate(418.2,293.9) rotate(-24)"/>
<rect x="-1.65" y="-2.20" width="3.30" height="4.40" transform="translate(424.2,294.6) rotate(34)"/>
<rect x="-1.65" y="-1.20" width="3.30" height="2.40" transform="translate(428.6,295.4) rotate(-8)"/>
<rect x="-1.65" y="-2.20" width="3.30" height="4.40" transform="translate(435.1,297.5) rotate(28)"/>
<rect x="-1.65" y="-2.20" width="3.30" height="4.40" transform="translate(439.6,298.9) rotate(-14)"/>
<rect x="-2.20" y="-1.50" width="4.40" height="3.00" transform="translate(445.5,300.8) rotate(44)"/>
<rect x="-1.24" y="-1.76" width="2.47" height="3.52" transform="translate(456.4,304.0) rotate(38)"/>
<rect x="-2.20" y="-1.50" width="4.40" height="3.00" transform="translate(461.3,303.6) rotate(-26)"/>
<rect x="-1.65" y="-2.20" width="3.30" height="4.40" transform="translate(467.3,304.0) rotate(32)"/>
<rect x="-2.20" y="-1.50" width="4.40" height="3.00" transform="translate(366.0,294.0) rotate(-26)"/>
<rect x="-1.24" y="-1.76" width="2.47" height="3.52" transform="translate(371.9,297.0) rotate(38)"/>
<rect x="-2.20" y="-1.50" width="4.40" height="3.00" transform="translate(382.9,299.2) rotate(44)"/>
<rect x="-1.65" y="-2.20" width="3.30" height="4.40" transform="translate(387.8,299.9) rotate(-14)"/>
<rect x="-1.65" y="-2.20" width="3.30" height="4.40" transform="translate(394.2,300.2) rotate(28)"/>
<rect x="-1.65" y="-1.20" width="3.30" height="2.40" transform="translate(398.7,299.7) rotate(-8)"/>
<rect x="-1.65" y="-2.20" width="3.30" height="4.40" transform="translate(405.1,299.4) rotate(34)"/>
<rect x="-1.65" y="-2.20" width="3.30" height="4.40" transform="translate(410.1,299.2) rotate(-24)"/>
<rect x="-2.20" y="-1.50" width="4.40" height="3.00" transform="translate(416.1,298.9) rotate(40)"/>
<rect x="-1.65" y="-2.20" width="3.30" height="4.40" transform="translate(421.0,299.2) rotate(-18)"/>
<rect x="-1.65" y="-2.20" width="3.30" height="4.40" transform="translate(425.9,300.0) rotate(24)"/>
<rect x="-1.65" y="-1.20" width="3.30" height="2.40" transform="translate(431.9,302.5) rotate(-12)"/>
<rect x="-1.65" y="-2.20" width="3.30" height="4.40" transform="translate(442.8,305.4) rotate(-6)"/>
<rect x="-2.20" y="-1.50" width="4.40" height="3.00" transform="translate(447.8,306.9) rotate(36)"/>
<rect x="-1.65" y="-2.20" width="3.30" height="4.40" transform="translate(454.2,308.6) rotate(-22)"/>
<rect x="-1.24" y="-1.76" width="2.47" height="3.52" transform="translate(458.6,309.1) rotate(42)"/>
<rect x="-2.20" y="-1.50" width="4.40" height="3.00" transform="translate(465.1,309.8) rotate(-16)"/>
<rect x="-1.65" y="-2.20" width="3.30" height="4.40" transform="translate(369.7,301.5) rotate(28)"/>
<rect x="-2.20" y="-1.50" width="4.40" height="3.00" transform="translate(374.6,302.5) rotate(-24)"/>
<rect x="-1.65" y="-2.20" width="3.30" height="4.40" transform="translate(379.6,303.3) rotate(24)"/>
<rect x="-1.65" y="-2.20" width="3.30" height="4.40" transform="translate(385.6,305.1) rotate(-6)"/>
<rect x="-1.65" y="-1.20" width="3.30" height="2.40" transform="translate(390.5,305.2) rotate(42)"/>
<rect x="-1.65" y="-2.20" width="3.30" height="4.40" transform="translate(396.9,304.9) rotate(-10)"/>
<rect x="-1.24" y="-1.76" width="2.47" height="3.52" transform="translate(401.9,305.9) rotate(38)"/>
<rect x="-2.20" y="-1.50" width="4.40" height="3.00" transform="translate(406.8,305.2) rotate(-14)"/>
<rect x="-1.65" y="-2.20" width="3.30" height="4.40" transform="translate(413.3,304.7) rotate(34)"/>
<rect x="-1.65" y="-2.20" width="3.30" height="4.40" transform="translate(418.2,304.5) rotate(-18)"/>
<rect x="-1.65" y="-2.20" width="3.30" height="4.40" transform="translate(429.6,307.1) rotate(-22)"/>
<rect x="-1.65" y="-2.20" width="3.30" height="4.40" transform="translate(434.6,308.0) rotate(26)"/>
<rect x="-2.20" y="-1.50" width="4.40" height="3.00" transform="translate(439.6,309.1) rotate(-26)"/>
<rect x="-1.65" y="-2.20" width="3.30" height="4.40" transform="translate(445.5,311.8) rotate(44)"/>
<rect x="-1.24" y="-1.76" width="2.47" height="3.52" transform="translate(450.4,312.8) rotate(-8)"/>
<rect x="-2.20" y="-1.50" width="4.40" height="3.00" transform="translate(456.9,313.9) rotate(40)"/>
<rect x="-1.24" y="-1.76" width="2.47" height="3.52" transform="translate(461.8,315.8) rotate(-12)"/>
<rect x="-1.65" y="-2.20" width="3.30" height="4.40" transform="translate(466.8,315.8) rotate(36)"/>
<rect x="-1.65" y="-2.20" width="3.30" height="4.40" transform="translate(366.5,305.2) rotate(-18)"/>
<rect x="-1.65" y="-2.20" width="3.30" height="4.40" transform="translate(371.4,307.5) rotate(36)"/>
<rect x="-2.20" y="-1.50" width="4.40" height="3.00" transform="translate(377.9,308.4) rotate(-10)"/>
<rect x="-1.65" y="-2.20" width="3.30" height="4.40" transform="translate(382.9,310.2) rotate(44)"/>
<rect x="-1.65" y="-2.20" width="3.30" height="4.40" transform="translate(388.3,310.5) rotate(-24)"/>
<rect x="-1.65" y="-2.20" width="3.30" height="4.40" transform="translate(399.7,310.7) rotate(-16)"/>
<rect x="-1.24" y="-1.76" width="2.47" height="3.52" transform="translate(404.6,311.2) rotate(38)"/>
<rect x="-1.65" y="-1.20" width="3.30" height="2.40" transform="translate(409.6,310.2) rotate(-8)"/>
<rect x="-1.65" y="-2.20" width="3.30" height="4.40" transform="translate(415.1,309.8) rotate(24)"/>
<rect x="-1.65" y="-2.20" width="3.30" height="4.40" transform="translate(421.5,311.1) rotate(-22)"/>
<rect x="-2.20" y="-1.50" width="4.40" height="3.00" transform="translate(426.4,311.1) rotate(32)"/>
<rect x="-1.65" y="-2.20" width="3.30" height="4.40" transform="translate(431.4,313.0) rotate(-14)"/>
<rect x="-1.65" y="-2.20" width="3.30" height="4.40" transform="translate(437.9,314.1) rotate(40)"/>
<rect x="-2.20" y="-1.50" width="4.40" height="3.00" transform="translate(442.8,316.4) rotate(-6)"/>
<rect x="-1.65" y="-2.20" width="3.30" height="4.40" transform="translate(448.2,317.7) rotate(26)"/>
<rect x="-2.20" y="-1.50" width="4.40" height="3.00" transform="translate(459.6,320.2) rotate(34)"/>
<rect x="-1.24" y="-1.76" width="2.47" height="3.52" transform="translate(464.6,321.6) rotate(-12)"/>
<rect x="-2.20" y="-1.50" width="4.40" height="3.00" transform="translate(368.7,312.2) rotate(36)"/>
<rect x="-1.65" y="-2.20" width="3.30" height="4.40" transform="translate(374.1,313.0) rotate(-26)"/>
<rect x="-1.65" y="-2.20" width="3.30" height="4.40" transform="translate(380.6,314.9) rotate(34)"/>
<rect x="-2.20" y="-1.50" width="4.40" height="3.00" transform="translate(385.6,316.1) rotate(-6)"/>
<rect x="-1.65" y="-2.20" width="3.30" height="4.40" transform="translate(391.0,315.8) rotate(32)"/>
<rect x="-1.24" y="-1.76" width="2.47" height="3.52" transform="translate(395.9,316.3) rotate(-8)"/>
<rect x="-1.65" y="-2.20" width="3.30" height="4.40" transform="translate(407.8,315.4) rotate(-10)"/>
<rect x="-1.65" y="-2.20" width="3.30" height="4.40" transform="translate(413.3,316.1) rotate(28)"/>
<rect x="-1.65" y="-1.20" width="3.30" height="2.40" transform="translate(418.2,316.7) rotate(-12)"/>
<rect x="-1.65" y="-2.20" width="3.30" height="4.40" transform="translate(423.7,316.5) rotate(26)"/>
<rect x="-1.65" y="-2.20" width="3.30" height="4.40" transform="translate(428.6,317.8) rotate(-14)"/>
<rect x="-2.20" y="-1.50" width="4.40" height="3.00" transform="translate(434.1,318.4) rotate(24)"/>
<rect x="-1.65" y="-2.20" width="3.30" height="4.40" transform="translate(440.6,320.8) rotate(-16)"/>
<rect x="-1.65" y="-2.20" width="3.30" height="4.40" transform="translate(445.5,322.8) rotate(44)"/>
<rect x="-2.20" y="-1.50" width="4.40" height="3.00" transform="translate(450.9,323.5) rotate(-18)"/>
<rect x="-1.24" y="-1.76" width="2.47" height="3.52" transform="translate(455.9,325.1) rotate(42)"/>
<rect x="-2.20" y="-1.50" width="4.40" height="3.00" transform="translate(467.8,326.0) rotate(40)"/>
<rect x="-1.65" y="-2.20" width="3.30" height="4.40" transform="translate(367.0,316.3) rotate(-10)"/>
<rect x="-2.20" y="-1.50" width="4.40" height="3.00" transform="translate(372.4,318.4) rotate(34)"/>
<rect x="-1.65" y="-2.20" width="3.30" height="4.40" transform="translate(377.9,320.2) rotate(-22)"/>
<rect x="-1.65" y="-2.20" width="3.30" height="4.40" transform="translate(382.9,321.2) rotate(44)"/>
<rect x="-1.65" y="-1.20" width="3.30" height="2.40" transform="translate(388.3,322.3) rotate(-12)"/>
<rect x="-1.65" y="-2.20" width="3.30" height="4.40" transform="translate(393.8,321.4) rotate(32)"/>
<rect x="-1.65" y="-2.20" width="3.30" height="4.40" transform="translate(399.2,321.7) rotate(-24)"/>
<rect x="-1.65" y="-1.20" width="3.30" height="2.40" transform="translate(404.1,321.5) rotate(42)"/>
<rect x="-1.65" y="-2.20" width="3.30" height="4.40" transform="translate(409.6,321.6) rotate(-14)"/>
<rect x="-2.20" y="-1.50" width="4.40" height="3.00" transform="translate(420.5,321.2) rotate(-26)"/>
<rect x="-1.65" y="-2.20" width="3.30" height="4.40" transform="translate(426.9,322.2) rotate(40)"/>
<rect x="-1.65" y="-2.20" width="3.30" height="4.40" transform="translate(432.4,323.9) rotate(-16)"/>
<rect x="-2.20" y="-1.50" width="4.40" height="3.00" transform="translate(437.9,325.9) rotate(28)"/>
<rect x="-1.65" y="-2.20" width="3.30" height="4.40" transform="translate(442.8,327.4) rotate(-6)"/>
<rect x="-1.24" y="-1.76" width="2.47" height="3.52" transform="translate(448.2,329.5) rotate(38)"/>
<rect x="-2.20" y="-1.50" width="4.40" height="3.00" transform="translate(453.7,329.7) rotate(-18)"/>
<rect x="-1.65" y="-2.20" width="3.30" height="4.40" transform="translate(459.1,331.2) rotate(26)"/>
<rect x="-1.24" y="-1.76" width="2.47" height="3.52" transform="translate(464.1,331.7) rotate(-8)"/>
<rect x="-1.65" y="-2.20" width="3.30" height="4.40" transform="translate(369.2,323.3) rotate(44)"/>
<rect x="-1.65" y="-2.20" width="3.30" height="4.40" transform="translate(374.6,324.9) rotate(-6)"/>
<rect x="-2.20" y="-1.50" width="4.40" height="3.00" transform="translate(380.1,326.2) rotate(44)"/>
<rect x="-1.65" y="-2.20" width="3.30" height="4.40" transform="translate(385.6,327.1) rotate(-6)"/>
<rect x="-1.65" y="-2.20" width="3.30" height="4.40" transform="translate(391.0,327.6) rotate(44)"/>
<rect x="-2.20" y="-1.50" width="4.40" height="3.00" transform="translate(396.4,327.7) rotate(-6)"/>
<rect x="-1.65" y="-2.20" width="3.30" height="4.40" transform="translate(401.9,327.5) rotate(44)"/>
<rect x="-1.65" y="-2.20" width="3.30" height="4.40" transform="translate(407.3,327.2) rotate(-6)"/>
<rect x="-2.20" y="-1.50" width="4.40" height="3.00" transform="translate(412.8,327.1) rotate(44)"/>
<rect x="-1.65" y="-2.20" width="3.30" height="4.40" transform="translate(418.2,327.3) rotate(-6)"/>
<rect x="-1.65" y="-2.20" width="3.30" height="4.40" transform="translate(423.7,327.9) rotate(44)"/>
<rect x="-2.20" y="-1.50" width="4.40" height="3.00" transform="translate(429.1,328.9) rotate(-6)"/>
<rect x="-1.65" y="-2.20" width="3.30" height="4.40" transform="translate(434.6,330.4) rotate(44)"/>
<rect x="-1.65" y="-2.20" width="3.30" height="4.40" transform="translate(440.1,332.1) rotate(-6)"/>
<rect x="-2.20" y="-1.50" width="4.40" height="3.00" transform="translate(445.5,333.8) rotate(44)"/>
<rect x="-1.65" y="-2.20" width="3.30" height="4.40" transform="translate(450.9,335.3) rotate(-6)"/>
<rect x="-1.65" y="-2.20" width="3.30" height="4.40" transform="translate(456.4,336.6) rotate(44)"/>
<rect x="-2.20" y="-1.50" width="4.40" height="3.00" transform="translate(461.8,337.4) rotate(-6)"/>
<rect x="-1.65" y="-2.20" width="3.30" height="4.40" transform="translate(467.3,337.8) rotate(44)"/>
<rect x="-2.20" y="-1.50" width="4.40" height="3.00" transform="translate(366.5,327.6) rotate(-24)"/>
<rect x="-1.65" y="-2.20" width="3.30" height="4.40" transform="translate(371.9,328.8) rotate(32)"/>
<rect x="-1.24" y="-1.76" width="2.47" height="3.52" transform="translate(377.4,331.5) rotate(-12)"/>
<rect x="-2.20" y="-1.50" width="4.40" height="3.00" transform="translate(382.9,332.2) rotate(44)"/>
<rect x="-1.65" y="-2.20" width="3.30" height="4.40" transform="translate(388.8,333.0) rotate(-22)"/>
<rect x="-1.65" y="-2.20" width="3.30" height="4.40" transform="translate(394.2,332.8) rotate(34)"/>
<rect x="-2.20" y="-1.50" width="4.40" height="3.00" transform="translate(399.7,332.3) rotate(-10)"/>
<rect x="-1.65" y="-2.20" width="3.30" height="4.40" transform="translate(404.1,332.1) rotate(24)"/>
<rect x="-2.20" y="-1.50" width="4.40" height="3.00" transform="translate(415.1,332.6) rotate(36)"/>
<rect x="-1.24" y="-1.76" width="2.47" height="3.52" transform="translate(420.5,332.6) rotate(-8)"/>
<rect x="-1.65" y="-2.20" width="3.30" height="4.40" transform="translate(426.4,333.5) rotate(26)"/>
<rect x="-2.20" y="-1.50" width="4.40" height="3.00" transform="translate(431.9,334.3) rotate(-18)"/>
<rect x="-1.24" y="-1.76" width="2.47" height="3.52" transform="translate(437.4,337.1) rotate(38)"/>
<rect x="-1.65" y="-2.20" width="3.30" height="4.40" transform="translate(442.8,338.4) rotate(-6)"/>
<rect x="-2.20" y="-1.50" width="4.40" height="3.00" transform="translate(448.8,340.2) rotate(28)"/>
<rect x="-1.65" y="-2.20" width="3.30" height="4.40" transform="translate(454.2,341.2) rotate(-16)"/>
<rect x="-1.65" y="-2.20" width="3.30" height="4.40" transform="translate(459.6,341.8) rotate(40)"/>
<rect x="-2.20" y="-1.50" width="4.40" height="3.00" transform="translate(464.1,342.3) rotate(-26)"/>
<rect x="-1.65" y="-1.20" width="3.30" height="2.40" transform="translate(374.1,335.4) rotate(-8)"/>
<rect x="-1.65" y="-2.20" width="3.30" height="4.40" transform="translate(380.1,336.4) rotate(32)"/>
<rect x="-1.65" y="-2.20" width="3.30" height="4.40" transform="translate(385.6,338.1) rotate(-6)"/>
<rect x="-2.20" y="-1.50" width="4.40" height="3.00" transform="translate(391.5,338.2) rotate(34)"/>
<rect x="-1.65" y="-2.20" width="3.30" height="4.40" transform="translate(395.9,337.9) rotate(-26)"/>
<rect x="-1.65" y="-2.20" width="3.30" height="4.40" transform="translate(401.4,338.5) rotate(36)"/>
<rect x="-2.20" y="-1.50" width="4.40" height="3.00" transform="translate(407.3,337.8) rotate(-24)"/>
<rect x="-1.24" y="-1.76" width="2.47" height="3.52" transform="translate(412.8,338.5) rotate(38)"/>
<rect x="-1.65" y="-2.20" width="3.30" height="4.40" transform="translate(418.8,338.3) rotate(-22)"/>
<rect x="-2.20" y="-1.50" width="4.40" height="3.00" transform="translate(424.2,338.2) rotate(40)"/>
<rect x="-1.24" y="-1.76" width="2.47" height="3.52" transform="translate(434.1,340.8) rotate(42)"/>
<rect x="-2.20" y="-1.50" width="4.40" height="3.00" transform="translate(440.1,342.3) rotate(-18)"/>
<rect x="-1.65" y="-2.20" width="3.30" height="4.40" transform="translate(445.5,344.8) rotate(44)"/>
<rect x="-1.65" y="-2.20" width="3.30" height="4.40" transform="translate(451.4,346.1) rotate(-16)"/>
<rect x="-2.20" y="-1.50" width="4.40" height="3.00" transform="translate(455.9,346.7) rotate(24)"/>
<rect x="-1.65" y="-2.20" width="3.30" height="4.40" transform="translate(461.3,348.4) rotate(-14)"/>
<rect x="-1.65" y="-2.20" width="3.30" height="4.40" transform="translate(467.3,348.4) rotate(26)"/>
</g>
<path class="p" style="stroke-width:2.32" d="M362.0,290.5 C364.2,290.7 370.7,291.1 375.0,291.5 C379.3,291.9 384.7,291.9 388.0,292.6 C391.3,293.4 392.3,294.9 395.0,296.0 C397.7,297.1 401.2,299.1 404.0,299.5 C406.8,299.9 408.7,298.6 412.0,298.2 C415.3,297.8 420.7,296.9 424.0,297.0 C427.3,297.1 428.9,298.6 432.0,298.5 C435.1,298.4 440.8,296.7 442.5,296.3"/>
<path class="p" style="stroke-width:1.46" d="M394.0,277.7 L388.5,292.6"/>
<path class="p" style="stroke-width:1.46" d="M399.5,280.7 L395.0,295.5"/>
<path class="p" style="stroke-width:1.46" d="M417.4,282.0 L411.0,298.0"/>
<path class="p" style="stroke-width:1.46" d="M421.5,281.9 L415.3,297.8"/>
<path class="p" style="stroke-width:1.46" d="M431.0,283.5 L426.0,297.3"/>
<path class="p" style="stroke-width:1.46" d="M435.5,283.6 L430.2,298.0"/>
<path class="p" style="stroke-width:1.71" d="M356.0,309.0 L356.0,322.2 L430.8,335.8 L434.2,334.2 L434.2,331.0"/>
<path class="p" style="stroke-width:1.22" d="M358.3,319.5 L431.3,332.8"/>
<path class="p" style="stroke-width:1.95" d="M362.0,291.0 L359.3,315.5"/>
<path class="n" style="stroke-width:1.1" d="M396,331.2 L478.5,379 L520.6,267.8"/>

<path class="k" style="stroke-width:2.81" d="M488.7,233.3 C487.2,235.1 483.1,239.9 480.0,244.0 C476.9,248.1 473.3,253.9 470.3,257.7 C467.3,261.5 464.8,264.2 462.0,267.0 C459.2,269.8 455.9,272.5 453.5,274.5 C451.1,276.5 448.5,278.2 447.5,279.0"/>
<path class="k" style="stroke-width:3.66" d="M470.3,260.4 L499.6,266.2"/>
<path class="p" style="stroke-width:1.95" d="M447.5,283.8 C447.1,286.5 445.6,293.6 445.0,300.0 C444.4,306.4 443.9,316.0 443.8,322.0 C443.7,328.0 444.2,333.7 444.3,336.0"/>
<path class="k" style="stroke-width:2.81" d="M444.3,336.0 C446.1,336.7 451.5,339.1 455.0,340.4 C458.5,341.7 461.0,342.5 465.2,343.6 C469.4,344.7 475.5,346.0 480.0,346.8 C484.5,347.6 487.3,347.8 492.1,348.7 C496.9,349.6 503.6,350.5 508.9,352.2 C514.2,353.9 519.0,356.1 524.0,358.7 C529.0,361.3 536.6,366.4 539.1,368.0"/>
<path class="p" style="stroke-width:1.71" d="M453.5,274.5 L447.5,283.8"/>
<path class="p" style="stroke-width:1.34" d="M451.3,280.0 L466.3,265.0"/>
<path class="p" style="stroke-width:1.22" d="M482.0,241.5 L471.5,257.0"/>
<path class="p" style="stroke-width:1.59" d="M470.3,263.6 C470.5,265.0 471.0,269.4 471.3,272.0 C471.6,274.6 472.1,277.8 472.3,279.0"/>
<path class="p" style="stroke-width:1.59" d="M472.3,279.0 L483.5,282.0 L486.5,283.5 L488.0,288.8 L496.5,292.8"/>
<path class="p" style="stroke-width:1.22" d="M474.0,277.3 L484.2,280.0 L488.3,282.5 L489.8,287.3 L496.8,290.5"/>
<path class="p" style="stroke-width:1.95" d="M468.6,264.5 L446.3,318.0"/>
<path class="p" style="stroke-width:1.52" d="M472.8,280.3 L452.5,338.8"/>
<path class="p" style="stroke-width:1.52" d="M475.8,281.3 L456.0,340.3"/>
<path class="p" style="stroke-width:1.52" d="M483.7,283.7 L464.5,343.0"/>
<path class="p" style="stroke-width:1.52" d="M486.5,285.0 L467.5,344.0"/>
<path class="p" style="stroke-width:1.52" d="M488.0,290.4 L471.8,345.0"/>
<path class="p" style="stroke-width:1.52" d="M491.0,292.0 L475.0,346.0"/>
<circle cx="479.3" cy="329.4" r="2.2" class="p" style="stroke-width:1.3"/>
<path class="p" style="stroke-width:1.95" d="M502.0,262.0 C501.2,265.9 498.1,278.1 497.1,285.4 C496.2,292.6 496.8,297.2 496.3,305.5 C495.8,313.8 494.6,325.3 494.0,335.0 C493.4,344.7 493.1,359.0 492.9,363.8"/>
<path class="p" style="stroke-width:2.07" d="M492.9,363.8 L539.1,368.0 L574.3,366.3"/>
<path class="k" style="stroke-width:3.17" d="M502.1,261.9 C502.6,261.2 503.8,258.6 505.0,257.5 C506.2,256.4 507.2,255.7 509.5,255.0 C511.8,254.3 515.4,253.5 519.0,253.5 C522.6,253.5 526.8,254.9 531.0,255.2 C535.2,255.5 540.7,255.8 544.0,255.2 C547.3,254.6 549.1,253.1 551.0,251.5 C552.9,249.9 554.1,248.1 555.5,245.5 C556.9,242.9 558.8,237.6 559.5,236.0"/>
<path class="p" style="stroke-width:1.34" d="M510.5,250.1 C511.6,249.4 515.0,246.4 517.2,245.9 C519.5,245.4 521.8,246.1 524.0,246.8 C526.2,247.5 529.6,249.6 530.7,250.1"/>
<path class="p" style="stroke-width:1.22" d="M508.0,252.0 C508.8,251.3 511.2,248.8 513.0,248.0 C514.8,247.2 518.0,247.4 519.0,247.3"/>
<path class="l" style="stroke-width:1.34" d="M520.3,242.3 L520.3,249.0"/>
<ellipse cx="518.3" cy="267.6" rx="12.3" ry="11.5" class="pw" style="stroke-width:3.1"/>
<ellipse cx="519.3" cy="266.8" rx="10" ry="9.2" class="p" style="stroke-width:1.2"/>
<path class="p" style="stroke-width:1.59" d="M504.0,271.0 C504.4,272.3 505.0,276.8 506.5,279.0 C508.0,281.2 510.8,283.4 513.0,284.5 C515.2,285.6 517.7,285.8 520.0,285.6 C522.3,285.4 525.2,284.6 527.0,283.5 C528.8,282.4 530.3,279.5 531.0,278.7"/>
<path class="k" style="stroke-width:2.44" d="M507.0,276.0 C507.8,276.9 510.0,280.3 512.0,281.5 C514.0,282.7 516.7,283.1 519.0,283.0 C521.3,282.9 524.8,281.3 526.0,281.0"/>
<circle cx="518.2" cy="318.6" r="16.4" class="pw" style="stroke-width:4"/>
<circle cx="518.6" cy="317.8" r="13.6" class="p" style="stroke-width:1.1"/>
<path class="p" style="stroke-width:1.22" d="M518.0,328.5 L518.0,332.0"/>
<path class="p" style="stroke-width:1.2" d="M521.5,343.6 L527.3,343.6 L527.3,353.7 L521.5,353.7 Z M521.5,348.3 L527.3,348.3 M513.5,346.8 C514.5,345.8 515,349.8 516,348.8 L519.5,348.8 M530,343.5 C532,346 532,351 530,353.5"/>
<path class="p" style="stroke-width:1.95" d="M540.0,302.5 C540.7,302.6 542.8,302.6 544.0,303.3 C545.2,304.0 546.5,303.9 547.4,306.7 C548.2,309.5 549.4,314.2 549.1,320.1 C548.8,326.0 546.5,335.6 545.8,342.0 C545.1,348.4 545.0,355.9 544.9,358.7"/>
<path class="p" style="stroke-width:1.95" d="M540.0,302.5 C540.0,303.5 539.8,305.2 539.9,308.4 C540.0,311.6 541.1,316.2 540.7,321.8 C540.3,327.4 538.0,335.7 537.4,342.0 C536.8,348.3 537.4,356.7 537.4,359.6"/>
<path class="p" style="stroke-width:1.95" d="M537.4,359.6 L544.9,358.7"/>
<path class="p" style="stroke-width:1.22" d="M541.6,305.5 C542.1,306.1 543.9,307.2 544.5,309.0 C545.1,310.8 544.9,314.8 545.0,316.0"/>
<path class="p" style="stroke-width:1.59" d="M537.4,258.5 C538.3,261.2 540.8,268.6 543.0,275.0 C545.2,281.4 548.5,291.1 550.8,297.1 C553.1,303.1 554.8,306.5 557.0,311.0 C559.2,315.5 561.9,320.2 564.2,324.0 C566.5,327.8 569.9,332.3 571.0,334.0"/>
<path class="p" style="stroke-width:1.59" d="M547.4,253.5 C548.0,256.2 549.6,264.7 551.0,270.0 C552.4,275.3 554.0,279.9 555.8,285.4 C557.6,290.9 559.8,297.1 562.0,303.0 C564.2,308.9 567.0,315.9 569.3,320.6 C571.6,325.3 574.9,329.3 576.0,331.0"/>
<path class="p" style="stroke-width:1.22" d="M541.0,257.0 C542.0,260.3 544.8,270.5 547.0,277.0 C549.2,283.5 551.7,290.2 554.0,296.0 C556.3,301.8 559.8,309.3 561.0,312.0"/>
<path class="p" style="stroke-width:1.59" d="M550.8,300.0 C551.5,301.4 553.3,305.7 555.0,308.5 C556.7,311.3 558.6,313.6 560.9,316.8 C563.2,320.1 566.5,324.6 569.0,328.0 C571.5,331.4 574.8,335.4 576.0,336.9"/>
<path class="p" style="stroke-width:1.71" d="M576.0,336.9 L577.7,363.8 L574.3,366.3"/>
<path class="kk" style="stroke-width:4.39" d="M559.5,236.0 C560.0,236.7 561.9,237.4 562.6,240.1 C563.4,242.8 563.5,248.1 564.0,252.0 C564.5,255.9 565.2,258.9 565.9,263.6 C566.6,268.3 567.2,274.4 568.0,280.0 C568.8,285.6 569.7,291.9 570.9,297.1 C572.1,302.3 573.5,306.9 575.0,311.0 C576.5,315.1 578.2,318.9 580.0,322.0 C581.8,325.1 585.0,328.2 586.0,329.5"/>
<path class="p" style="stroke-width:1.46" d="M550.0,248.4 C550.3,251.2 551.2,259.4 552.0,265.0 C552.8,270.6 553.8,276.3 555.0,282.0 C556.2,287.7 557.8,293.4 559.5,299.0 C561.2,304.6 563.2,310.8 565.1,315.5 C567.0,320.2 568.8,323.6 571.0,327.0 C573.2,330.4 577.2,334.2 578.5,335.6"/>
<path class="p" style="stroke-width:1.71" d="M579.0,333.5 L576.5,366.3 L578.2,368.5 L580.0,367.2 L581.3,334.5"/>
<path class="p" style="stroke-width:1.59" d="M580.5,321.0 L586.5,324.5 L584.0,330.5"/>
<path class="k" style="stroke-width:2.81" d="M512.0,212.6 L513.9,195.3 L516.3,191.3 L519.4,190.4 L566.2,204.4"/>
<path class="k" style="stroke-width:2.81" d="M566.2,204.4 C566.8,204.7 568.8,205.3 569.8,206.3 C570.8,207.3 571.4,208.2 571.9,210.3 C572.4,212.4 573.1,216.6 573.0,218.7 C572.9,220.8 571.4,221.9 571.1,222.6"/>
<path class="k" style="stroke-width:2.81" d="M571.1,222.6 L560.0,235.0"/>
<path class="p" style="stroke-width:1.59" d="M517.3,194.0 L565.0,207.6 L564.4,213.8"/>
<path class="p" style="stroke-width:1.59" d="M517.0,195.3 L515.1,207.6 L525.6,234.7"/>
<path class="p" style="stroke-width:1.59" d="M518.7,207.0 L528.0,232.3"/>
<path class="k" style="stroke-width:2.44" d="M512.0,212.6 L523.1,236.0"/>
<path class="k" style="stroke-width:2.81" d="M512.0,212.6 C510.3,213.4 505.1,216.0 502.0,217.5 C498.9,219.0 495.3,220.2 493.5,221.5 C491.7,222.8 491.7,223.3 491.2,225.0 C490.7,226.7 490.6,230.4 490.5,231.5"/>
<path class="k" style="stroke-width:2.81" d="M490.5,232.5 L523.1,236.2"/>
<path class="p" style="stroke-width:1.59" d="M490.5,231.5 L487.4,234.7 L484.0,238.0"/>
<path class="pw" style="stroke-width:1.7" d="M496.8,237.2 L497.2,227 C497.4,221 506.4,221 506.5,227 L506.5,236 Z"/>
<path class="p" style="stroke-width:1.2" d="M499.8,236.8 L500,229.5 C500.3,226.3 504.5,226.5 504.6,229.8"/>
<ellipse cx="544.9" cy="220.6" rx="16" ry="17.3" class="pw" style="stroke-width:1.8"/>
<ellipse cx="544.6" cy="219.6" rx="13.6" ry="14.6" class="p" style="stroke-width:2.5"/>
<ellipse cx="544.6" cy="216.3" rx="10.2" ry="9.4" class="pw" style="stroke-width:1.7"/>
<path class="k" style="stroke-width:3.17" d="M534.6,221.5 C535.2,222.4 536.4,225.5 538.0,226.8 C539.6,228.1 541.9,229.1 544.0,229.3 C546.1,229.5 548.6,228.9 550.5,227.8 C552.4,226.8 554.4,223.8 555.2,223.0"/>
<path class="n" style="stroke-width:1.05" d="M567.3,175.5 L545.5,219.5"/>
<path class="k" style="stroke-width:2.44" d="M527.2,233.5 L529.5,240.0 L531.5,237.7"/>
<path class="p" style="stroke-width:1.46" d="M540.5,237.5 L541.0,241.0 L544.0,241.6 L544.3,238.5"/>
<path class="p" style="stroke-width:1.22" d="M534.2,237.2 L540.3,252.3"/>
<path class="p" style="stroke-width:1.46" d="M523.1,252.6 C524.8,252.9 529.9,254.3 533.0,254.6 C536.1,254.9 538.9,255.4 541.6,254.6 C544.3,253.8 546.5,252.0 549.0,249.5 C551.5,247.0 554.6,242.1 556.4,239.6 C558.2,237.1 559.4,235.5 560.0,234.7"/>
<path class="p" style="stroke-width:1.46" d="M559.0,213.5 L562.0,214.5 L558.0,232.0"/>
<path class="p" style="stroke-width:1.46" d="M556.0,212.0 C556.4,213.3 558.3,217.2 558.5,220.0 C558.7,222.8 557.2,227.5 557.0,229.0"/>
<path class="k" style="stroke-width:2.93" d="M572.4,220.5 C575.0,221.3 583.1,223.8 588.0,225.3 C592.9,226.8 598.6,228.4 602.0,229.4 C605.4,230.4 607.4,231.2 608.5,231.5"/>
<path class="p" style="stroke-width:1.59" d="M608.5,231.5 L609.3,229.3 L611.5,230.0 L611.0,233.0 L613.2,233.6 L614.2,230.3 L616.2,231.0 L615.4,235.0"/>
<path class="k" style="stroke-width:2.68" d="M615.4,234.6 C617.0,235.2 621.6,236.8 625.0,238.2 C628.4,239.6 631.7,241.2 635.5,242.8 C639.3,244.4 643.8,246.2 648.0,248.0 C652.2,249.8 656.5,251.4 660.7,253.7 C664.9,255.9 668.8,258.7 673.0,261.5 C677.2,264.3 681.6,267.3 685.8,270.5 C690.0,273.7 694.0,277.1 698.0,280.5 C702.0,283.9 708.0,289.2 710.0,291.0"/>
<path class="p" style="stroke-width:2.20" d="M710.0,291.0 L714.1,296.8 L714.1,308.5"/>
<path class="k" style="stroke-width:2.93" d="M571.8,231.8 C574.8,232.8 584.0,235.8 590.0,238.0 C596.0,240.2 601.9,242.5 608.0,244.8 C614.1,247.1 623.5,250.7 626.6,251.9"/>
<path class="p" style="stroke-width:1.34" d="M573.0,226.2 L596.4,232.3"/>
<path class="p" style="stroke-width:1.71" d="M560.6,229.5 L572.9,222.3 L571.8,231.8 L559.5,235.7"/>
<path class="p" style="stroke-width:2.20" d="M624.4,248.8 L633.3,244.6 L637.8,243.5"/>
<path class="p" style="stroke-width:1.46" d="M598.5,237.5 L603.0,233.5 L610.0,236.5 L607.5,244.5"/>
<path class="p" style="stroke-width:1.46" d="M600.0,239.0 L604.5,243.0"/>
<path class="p" style="stroke-width:1.34" d="M611.0,238.5 L617.0,243.0 L623.2,249.7"/>
<circle cx="607" cy="240.2" r="1.8" class="p" style="stroke-width:1.3"/>
<path class="kk" style="stroke-width:3.90" d="M630.5,253.4 C632.9,254.5 640.1,257.6 645.0,260.0 C649.9,262.4 655.0,265.1 660.0,268.0 C665.0,270.9 669.8,274.1 675.0,277.5 C680.2,280.9 688.3,286.8 691.0,288.7"/>
<path class="b" d="M690.5,289.5 C690.5,285.5 696,285 696.5,288.5 L695,292.5 Z"/>
<path class="p" style="stroke-width:1.95" d="M568.5,268.5 C569.0,267.8 570.4,265.2 571.5,264.0 C572.6,262.8 573.6,262.0 575.2,261.0 C576.8,260.0 579.0,258.8 581.0,258.0 C583.0,257.2 584.7,256.5 587.0,256.0 C589.3,255.5 592.2,255.2 595.0,255.0 C597.8,254.8 600.7,254.8 603.7,255.1 C606.7,255.4 609.9,256.2 613.0,257.0 C616.1,257.8 618.9,258.8 622.1,260.1 C625.3,261.4 628.6,263.2 632.0,265.0 C635.4,266.8 638.5,268.8 642.3,271.0 C646.1,273.2 650.8,275.6 655.0,278.0 C659.2,280.4 663.6,282.7 667.4,285.3 C671.2,287.9 674.6,290.7 678.0,293.5 C681.4,296.3 685.0,299.6 687.6,302.1 C690.2,304.6 691.8,306.3 693.5,308.5 C695.2,310.7 696.5,313.1 697.7,315.5 C698.9,317.9 699.7,320.5 700.5,323.0 C701.3,325.5 702.3,327.4 702.3,330.3 C702.3,333.2 701.0,338.7 700.7,340.4"/>
<path class="p" style="stroke-width:1.71" d="M580.2,265.2 C581.2,264.8 584.0,263.6 586.0,263.0 C588.0,262.4 589.7,262.0 592.0,261.8 C594.3,261.6 597.5,261.7 600.0,261.8 C602.5,261.9 604.3,262.1 607.0,262.7 C609.7,263.3 612.9,264.2 616.0,265.2 C619.1,266.2 621.8,266.8 625.5,268.5 C629.2,270.2 633.8,273.0 638.0,275.5 C642.2,278.0 646.5,281.2 650.7,283.6 C654.9,286.0 658.8,287.8 663.0,290.0 C667.2,292.2 672.5,294.8 675.8,297.0 C679.1,299.2 680.8,301.2 683.0,303.5 C685.2,305.8 687.7,308.2 689.3,310.5 C690.9,312.8 691.7,314.8 692.5,317.0 C693.3,319.2 694.0,321.6 694.3,323.9 C694.6,326.2 694.8,328.8 694.5,331.0 C694.2,333.2 692.9,336.0 692.6,337.0"/>
<circle cx="582.7" cy="261.8" r="2.7" class="pw" style="stroke-width:1.4"/>
<path class="p" style="stroke-width:1.71" d="M580.2,265.2 C580.4,266.5 580.9,270.5 581.5,273.0 C582.1,275.5 582.6,276.9 583.6,280.3 C584.6,283.8 587.1,291.5 587.8,293.7"/>
<path class="p" style="stroke-width:1.59" d="M568.5,268.5 C568.8,270.1 569.2,274.4 570.0,278.0 C570.8,281.6 571.8,286.0 573.0,290.0 C574.2,294.0 575.8,298.9 577.0,302.0 C578.2,305.1 579.7,307.7 580.2,308.8"/>
<path class="p" style="stroke-width:1.59" d="M587.8,293.7 L580.2,308.8"/>
<path class="p" style="stroke-width:1.59" d="M580.5,311.5 L587.5,315.2 L585.0,321.5"/>
<path class="p" style="stroke-width:1.95" d="M587.8,293.7 C589.2,294.5 593.1,297.0 596.0,298.7 C598.9,300.4 601.7,301.9 605.4,303.8 C609.1,305.7 613.8,308.1 618.0,310.0 C622.2,311.9 626.5,313.8 630.5,315.5 C634.5,317.2 638.1,318.6 642.0,320.0 C645.9,321.4 649.7,322.7 654.0,323.9 C658.3,325.1 663.2,326.1 668.0,327.2 C672.8,328.3 678.2,329.4 682.6,330.5 C687.0,331.6 690.2,332.2 694.3,334.0 C698.4,335.8 705.2,340.0 707.4,341.2"/>
<path class="p" style="stroke-width:1.71" d="M590.3,298.7 C591.6,299.8 595.2,303.3 598.0,305.5 C600.8,307.7 603.7,309.7 607.0,312.1 C610.3,314.5 614.1,317.5 618.0,320.0 C621.9,322.5 627.3,325.0 630.5,327.2 C633.7,329.4 636.1,332.1 637.2,333.1"/>
<path class="p" style="stroke-width:1.59" d="M631.9,328.7 L641.1,321.9 L636.9,332.9"/>
<path class="p" style="stroke-width:1.83" d="M707.4,311.2 L719.1,308.9 L715.8,317.8 L709.1,321.1 L707.4,311.2"/>
<path class="p" style="stroke-width:1.22" d="M710.5,313.5 L714.5,312.8 L713.3,316.3 L710.8,317.2 L710.5,313.5"/>
<path class="p" style="stroke-width:1.59" d="M697.5,296.0 L703.0,303.0 L706.8,310.5"/>
<path class="p" style="stroke-width:1.59" d="M702.0,289.0 L703.5,299.0 L708.0,308.0"/>
<path class="k" style="stroke-width:3.17" d="M717.4,320.3 C717.0,321.6 715.8,325.5 715.0,328.0 C714.2,330.5 713.7,332.5 712.4,335.4 C711.1,338.3 709.0,342.5 707.4,345.4 C705.8,348.3 704.7,350.5 703.0,353.0 C701.3,355.5 699.3,358.2 697.3,360.5 C695.3,362.8 693.2,364.8 691.0,366.5 C688.8,368.2 686.8,369.5 683.9,370.6 C681.0,371.7 675.5,372.7 673.8,373.1"/>
<path class="p" style="stroke-width:1.46" d="M712.0,320.5 C711.8,321.8 711.1,325.7 710.5,328.0 C709.9,330.3 709.4,332.2 708.5,334.5 C707.6,336.8 705.8,340.8 705.3,342.0"/>
<path class="k" style="stroke-width:2.81" d="M582.7,366.2 C585.6,366.1 594.1,365.6 600.0,365.6 C605.9,365.6 612.4,366.0 618.0,366.3 C623.6,366.6 628.8,366.8 633.6,367.2 C638.4,367.6 642.8,368.1 647.0,368.7 C651.2,369.3 654.2,369.9 658.7,370.6 C663.2,371.3 671.3,372.7 673.8,373.1"/>
<path class="k" style="stroke-width:2.44" d="M560.0,367.5 L576.3,366.3"/>
<path class="p" style="stroke-width:1.59" d="M673.0,360.5 L673.0,372.3"/>
<path class="p" style="stroke-width:1.83" d="M687.2,332.9 C686.2,334.2 682.9,338.1 681.0,341.0 C679.1,343.9 677.3,346.8 676.0,350.0 C674.7,353.2 673.5,358.8 673.0,360.5"/>
<path class="p" style="stroke-width:1.34" d="M690.5,335.0 C689.7,336.3 687.2,340.3 685.5,343.0 C683.8,345.7 681.7,348.8 680.0,351.0 C678.3,353.2 676.2,355.6 675.5,356.5"/>
<path class="p" style="stroke-width:1.59" d="M693.5,337.5 C692.9,339.0 691.7,343.6 690.0,346.5 C688.3,349.4 685.9,352.6 683.5,355.0 C681.1,357.4 677.1,359.8 675.8,360.8"/>
<path class="p" style="stroke-width:1.59" d="M698.5,341.0 C697.8,342.6 696.4,347.5 694.5,350.5 C692.6,353.5 689.9,356.6 687.0,359.0 C684.1,361.4 678.7,363.8 677.0,364.8"/>
<path class="p" style="stroke-width:1.22" d="M686.5,346.0 L690.0,349.5"/>
<path class="p" style="stroke-width:1.22" d="M682.0,354.5 L685.5,357.5"/>
</g>
</svg>
</body></html>
